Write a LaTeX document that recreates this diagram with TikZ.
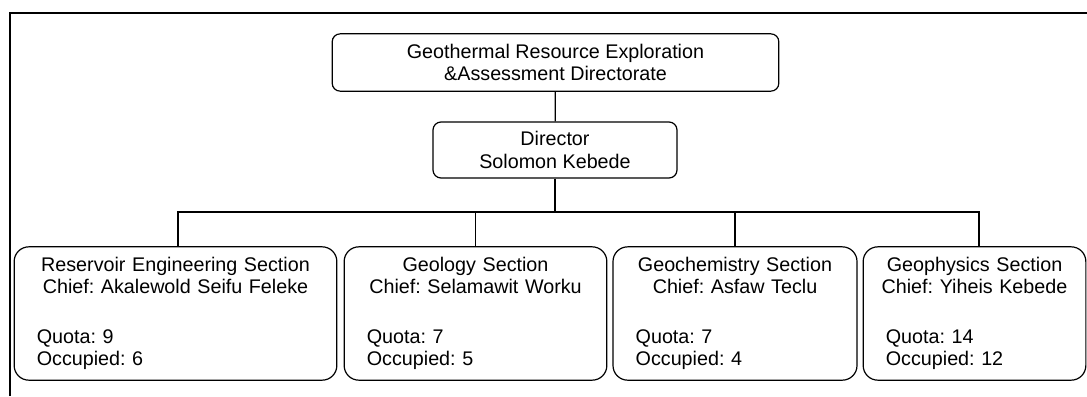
\documentclass[tikz,border=0pt]{standalone}
\usepackage{fontspec}
\setmainfont{Liberation Sans}
\usepackage{tikz}
\usetikzlibrary{positioning}
\newcommand{\secrow}[1]{\makebox[\linewidth]{#1}}

\begin{document}
\begin{tikzpicture}[
  x=0.75pt, y=-0.75pt,
  font=\fontsize{14.8}{17}\selectfont\frenchspacing,
  box/.style={rectangle, rounded corners=#1, draw=black, line width=0.9pt,
    align=center, inner sep=0pt},
  box/.default=6pt,
  unitbox/.style={box=6pt},
  secbox/.style={box=11pt, align=left, text width=#1, inner xsep=17pt,
    minimum height=100pt},
  link/.style={draw=black, line width=0.9pt},
  frame/.style={draw=black, line width=1.2pt}
]
\useasboundingbox (0,0) rectangle (1087,396);

% outer frame (clipped at right and bottom)
\draw[frame] (9.7,396) -- (9.7,12.7) -- (1087,12.7);

\node[unitbox, minimum width=335pt, minimum height=43pt] (directorate) at (555.5,62.5)
  {Geothermal Resource Exploration\\\&Assessment Directorate};
\node[unitbox, minimum width=183pt, minimum height=42pt] (director) at (555,150)
  {Director\\Solomon Kebede};

\node[secbox=208pt] (reservoir) at (175.5,313.5)
  {\secrow{Reservoir Engineering Section}\\\secrow{Chief: Akalewold Seifu Feleke}\par
   \vspace{20pt}Quota: 9\\Occupied: 6\par\vspace{7pt}};
\node[secbox=163pt] (geology) at (475.5,313.5)
  {\secrow{Geology Section}\\\secrow{Chief: Selamawit Worku}\par
   \vspace{20pt}Quota: 7\\Occupied: 5\par\vspace{7pt}};
\node[secbox=149pt] (geochem) at (735,313.5)
  {\secrow{Geochemistry Section}\\\secrow{Chief: Asfaw Teclu}\par
   \vspace{20pt}Quota: 7\\Occupied: 4\par\vspace{7pt}};
\node[secbox=133pt] (geophys) at (974.5,313.5)
  {\secrow{Geophysics Section}\\\secrow{Chief: Yiheis Kebede}\par
   \vspace{20pt}Quota: 14\\Occupied: 12\par\vspace{7pt}};

\coordinate (junction) at (555,212);

\draw[link] (directorate) -- (director);
\draw[link] (director) -- (junction);
\draw[link] (junction) -| ([xshift=1.9pt]reservoir.north);
\draw[link] (junction) -| (geology.north);
\draw[link] (junction) -| (geochem.north);
\draw[link] (junction) -| ([xshift=3.4pt]geophys.north);

\end{tikzpicture}
\end{document}
